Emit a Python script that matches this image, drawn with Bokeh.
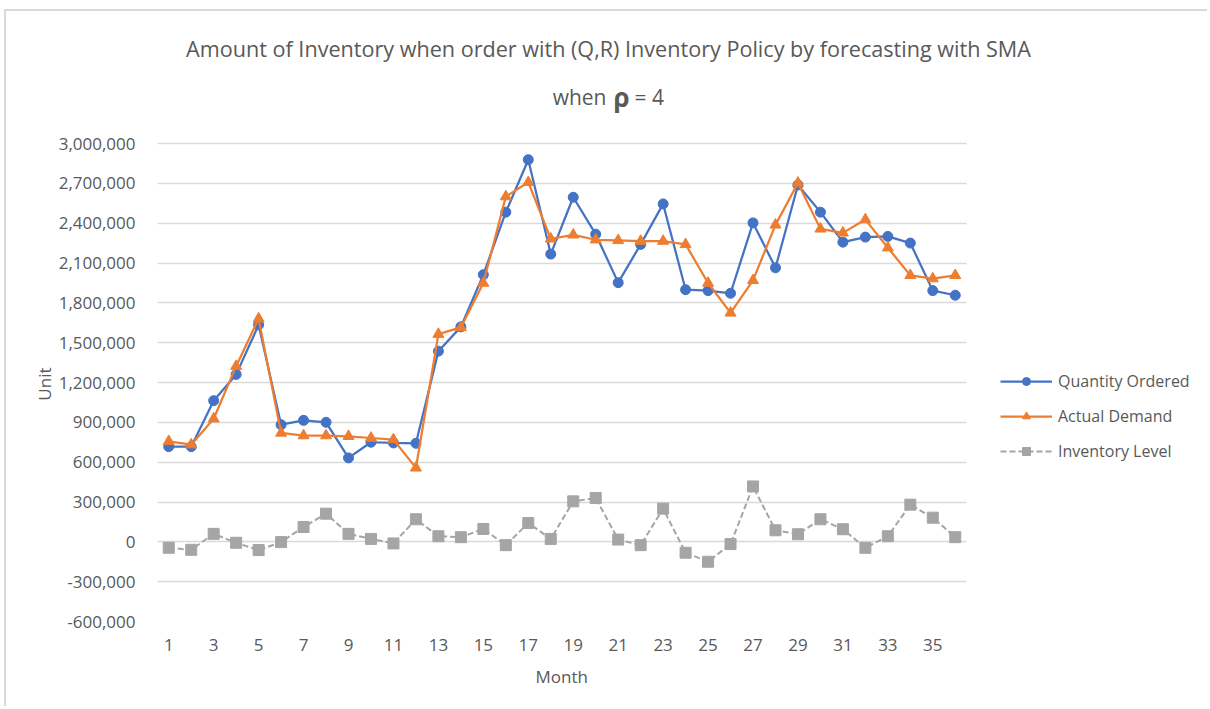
from bokeh.plotting import figure
from bokeh.models import (Range1d, FixedTicker, NumeralTickFormatter, Legend, LegendItem, Label, Title)
from bokeh.embed import file_html
from bokeh.resources import INLINE

months = list(range(1, 37))
quantity_ordered = [717000, 717000, 1063000, 1261000, 1634000, 882000, 915000, 900000, 632000, 750000,
                    745000, 742000, 1436000, 1619000, 2012000, 2483000, 2878000, 2167000, 2595000, 2317000,
                    1952000, 2240000, 2545000, 1899000, 1892000, 1872000, 2402000, 2064000, 2688000, 2483000,
                    2257000, 2295000, 2300000, 2250000, 1892000, 1857000]
actual_demand = [757000, 732000, 927000, 1323000, 1681000, 820000, 800000, 800000, 795000, 782000,
                 770000, 557000, 1564000, 1615000, 1949000, 2600000, 2708000, 2282000, 2312000, 2275000,
                 2270000, 2265000, 2265000, 2240000, 1949000, 1724000, 1969000, 2387000, 2703000, 2357000,
                 2327000, 2427000, 2215000, 2007000, 1982000, 2007000]
inventory_level = [-45000, -60000, 60000, -7000, -62000, -2000, 112000, 212000, 60000, 22000,
                   -12000, 170000, 42000, 35000, 97000, -25000, 142000, 22000, 305000, 330000,
                   17000, -25000, 250000, -82000, -150000, -17000, 417000, 87000, 57000, 170000,
                   95000, -45000, 42000, 280000, 182000, 35000]
x_ticks = list(range(1, 37, 2))
y_ticks = list(range(-600000, 3000001, 300000))
title_line1 = "Amount of Inventory when order with (Q,R) Inventory Policy by forecasting with SMA"

FONT = "Open Sans"
TXT = "#595959"
BLUE = "#4472C4"
ORANGE = "#ED7D31"
GREY = "#A5A5A5"

# layout geometry (page pixels)
OX, OY = 6, 11                 # content origin after margin + border
W, H = 1203, 697
FL, FT, FB = 157, 21, 621      # frame edges (frame extends to the right edge)
FR = OX + W
PLOT_RIGHT = 966               # right end of the plotted month axis
AX_TOP_PX = 143                # where the top of the value axis (3,000,000) sits
y_lo, y_hi = y_ticks[0], y_ticks[-1]
units_per_px = (y_hi - y_lo) / (FB - AX_TOP_PX)
y_end = y_hi + (AX_TOP_PX - FT) * units_per_px
x_start, x_stop = months[0] - 0.5, months[-1] + 0.5
px_per_x = (PLOT_RIGHT - FL) / (x_stop - x_start)
x_end = x_start + (FR - FL) / px_per_x


def dx(px):
    return x_start + (px - FL) / px_per_x


def dy(py):
    return y_hi + (AX_TOP_PX - py) * units_per_px


p = figure(width=W, height=H, output_backend="svg", toolbar_location=None, title=None,
           x_range=Range1d(x_start, x_end), y_range=Range1d(y_lo, y_end),
           min_border_left=FL - OX, min_border_right=0, min_border_top=FT - OY,
           min_border_bottom=H - (FB - OY))
p.margin = (9, 0, 0, 4)
p.styles = {"border-top": "2px solid #D9D9D9", "border-left": "2px solid #D9D9D9"}
p.outline_line_color = None
p.background_fill_color = "white"
p.border_fill_color = "white"

p.xgrid.grid_line_color = None
g = p.ygrid[0]
g.grid_line_color = "#D9D9D9"
g.grid_line_width = 1.5
g.ticker = FixedTicker(ticks=y_ticks)
if "cross_bounds" in g.properties():
    g.cross_bounds = (x_start, x_stop)
else:
    g.grid_line_color = None
    p.segment(x0=[x_start] * len(y_ticks), x1=[x_stop] * len(y_ticks), y0=y_ticks, y1=y_ticks,
              line_color="#D9D9D9", line_width=1.5, level="underlay")

p.xaxis.ticker = FixedTicker(ticks=x_ticks)
p.yaxis.ticker = FixedTicker(ticks=y_ticks)
p.yaxis.formatter = NumeralTickFormatter(format="0,0")
for ax in (p.xaxis[0], p.yaxis[0]):
    ax.axis_line_color = None
    ax.major_tick_line_color = None
    ax.minor_tick_line_color = None
    ax.major_label_text_font = FONT
    ax.major_label_text_font_size = "17px"
    ax.major_label_text_color = TXT
p.xaxis.major_label_standoff = 11
p.yaxis.major_label_standoff = 16

p.add_layout(Title(text="Unit", align="right", offset=346, standoff=0, text_font=FONT,
                   text_font_size="17px", text_font_style="normal", text_color=TXT), "left")
p.add_layout(Title(text="Month", align="left", offset=561 - FL - 26, vertical_align="top", standoff=22,
                   text_font=FONT, text_font_size="17px", text_font_style="normal", text_color=TXT), "below")

l1 = p.line(months, quantity_ordered, line_color=BLUE, line_width=2.25)
s1 = p.scatter(months, quantity_ordered, marker="circle", size=10, fill_color=BLUE, line_color=BLUE)
l2 = p.line(months, actual_demand, line_color=ORANGE, line_width=2.25)
s2 = p.scatter(months, actual_demand, marker="triangle", size=11, fill_color=ORANGE, line_color=ORANGE)
l3 = p.line(months, inventory_level, line_color=GREY, line_width=2, line_dash="6 3")
s3 = p.scatter(months, inventory_level, marker="square", size=11, fill_color=GREY, line_color=GREY)

legend = Legend(items=[LegendItem(label="Quantity Ordered", renderers=[l1, s1]),
                       LegendItem(label="Actual Demand", renderers=[l2, s2]),
                       LegendItem(label="Inventory Level", renderers=[l3, s3])],
                location=(1000 - FL, FB - 462), orientation="vertical")
legend.glyph_width = 52
legend.glyph_height = 20
legend.label_height = 20
legend.spacing = 13
legend.padding = 0
legend.margin = 0
legend.label_standoff = 6
legend.label_text_font = FONT
legend.label_text_font_size = "16px"
legend.label_text_color = TXT
legend.border_line_alpha = 0
legend.background_fill_alpha = 0
p.add_layout(legend, "center")

p.add_layout(Label(x=dx(608), y=dy(48), text=title_line1, text_align="center", text_baseline="middle",
                   text_font=FONT, text_font_size="21.6px", text_color=TXT))
p.add_layout(Label(x=dx(606), y=dy(96), text="when", text_align="right", text_baseline="middle",
                   text_font=FONT, text_font_size="21px", text_color=TXT))
p.add_layout(Label(x=dx(621), y=dy(96), text="ρ", text_align="center", text_baseline="middle",
                   text_font=FONT, text_font_size="26px", text_font_style="bold", text_color=TXT))
p.add_layout(Label(x=dx(634), y=dy(96), text="= 4", text_align="left", text_baseline="middle",
                   text_font=FONT, text_font_size="21px", text_color=TXT))

open("out.html", "w").write(file_html(p, INLINE))
